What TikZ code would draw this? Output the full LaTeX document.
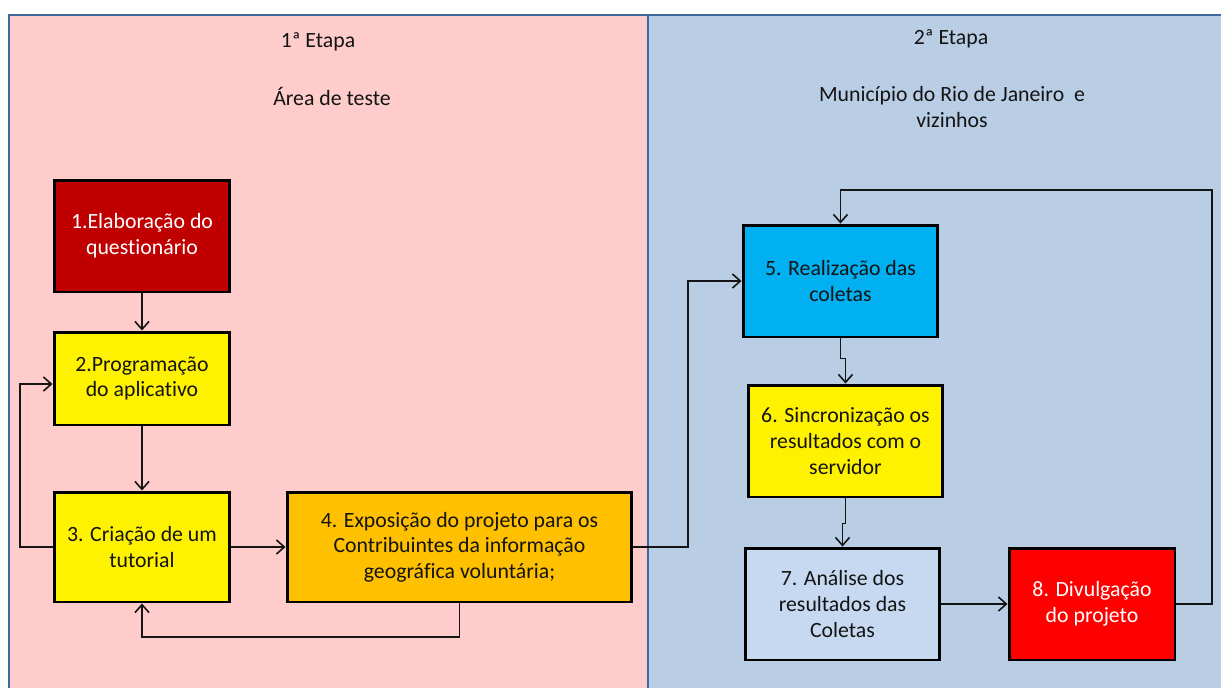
\documentclass[tikz,border=0pt]{standalone}
\usepackage{fontspec}
\setmainfont{Carlito}[Ligatures=NoCommon]
\usetikzlibrary{arrows.meta}

\definecolor{pinkbg}{HTML}{FFCCCC}
\definecolor{bluebg}{HTML}{B9CDE5}
\definecolor{frameblue}{HTML}{41689C}
\definecolor{darkred}{HTML}{C00000}
\definecolor{brightred}{HTML}{FF0000}
\definecolor{sky}{HTML}{00B0F0}
\definecolor{amber}{HTML}{FFC000}
\definecolor{paleblue}{HTML}{C6D9F1}
\definecolor{txt}{HTML}{141414}

\begin{document}
\begin{tikzpicture}[
  x=0.02cm, y=-0.02cm,
  box/.style={rectangle, draw=black, line width=1.7pt, align=center,
    font=\fontsize{12.4}{14.6}\selectfont, text=txt, inner sep=2pt},
  head/.style={align=center, font=\fontsize{12.4}{14.6}\selectfont, text=txt},
  e/.style={line width=0.9pt, draw=txt, -{Straight Barb[length=4.5pt,width=8pt]}}
]

\useasboundingbox (0,0) rectangle (1221,687);

% --- Panels ---
\fill[white] (0,0) rectangle (1221,687);
\filldraw[fill=pinkbg, draw=frameblue, line width=1.7pt] (9,15) rectangle (648,700);
\filldraw[fill=bluebg, draw=frameblue, line width=1.7pt] (648,15) rectangle (1232,700);

\node[head] (t1) at (318,42) {1ª Etapa};
\node[head] (a1) at (332,96) {Área de teste};
\node[head] (t2) at (951,39) {2ª Etapa};
\node[head] (a2) at (952,107) {Município do Rio de Janeiro\ \ e\\vizinhos};

% --- Steps ---
\node[box, fill=darkred, text=white, minimum width=3.52cm, minimum height=2.24cm]
  (b1) at (142,236) {1.Elaboração do\\questionário};
\node[box, fill=yellow, minimum width=3.52cm, minimum height=1.86cm]
  (b2) at (142,378.5) {2.Programação\\do aplicativo};
\node[box, fill=yellow, minimum width=3.52cm, minimum height=2.2cm]
  (b3) at (142,547) {3. Criação de um\\tutorial};
\node[box, fill=amber, minimum width=6.9cm, minimum height=2.2cm]
  (b4) at (459.5,547) {4. Exposição do projeto para os\\Contribuintes da informação\\geográfica voluntária;};
\node[box, fill=sky, minimum width=3.9cm, minimum height=2.24cm]
  (b5) at (840.5,281) {5. Realização das\\coletas};
\node[box, fill=yellow, minimum width=3.9cm, minimum height=2.24cm]
  (b6) at (845.5,441) {6. Sincronização os\\resultados com o\\servidor};
\node[box, fill=paleblue, minimum width=3.9cm, minimum height=2.24cm]
  (b7) at (842.5,604) {7. Análise dos\\resultados das\\Coletas};
\node[box, fill=brightred, text=white, minimum width=3.32cm, minimum height=2.24cm]
  (b8) at (1092,604) {8. Divulgação\\do projeto};

% --- Bend points ---
\coordinate (lp) at (20,384);
\coordinate (bt) at (460,637);
\coordinate (rj) at (688,547);
\coordinate (top) at (1212,190);

% --- Connectors ---
\path[e] (b1) -- (b2);
\path[e] (b2) -- (b3);
\path[e] (b3.west) -| (lp) -- (lp -| b2.west);
\path[e] (b3) -- (b4);
\path[e] (b4.south) -- (b4.south |- bt) -| (b3.south);
\path[e] (b4.east) -- (rj) |- (b5.west);
\path[e] (b5.south) -- ++(0,20) -| (b6.north);
\path[e] (b6.south) -- ++(0,25) -| (b7.north);
\path[e] (b7) -- (b8);
\path[e] (b8.east) -| (top) -| (b5.north);

\end{tikzpicture}
\end{document}
